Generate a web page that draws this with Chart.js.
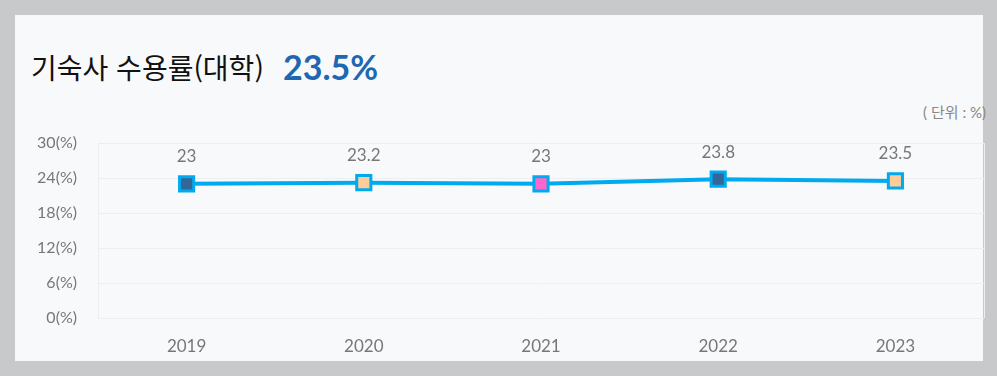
<!DOCTYPE html>
<html lang="ko">
<head>
<meta charset="utf-8">
<script src="https://cdn.jsdelivr.net/npm/chart.js@4.4.1/dist/chart.umd.min.js"></script>
<style>
    html, body { margin: 0; padding: 0; }
    body { width: 997px; height: 376px; background: #c8c9cb; position: relative; overflow: hidden; font-family: "Lato", "Noto Sans CJK KR", sans-serif; }
    .panel { position: absolute; left: 15px; top: 15px; width: 968px; height: 346px; background: #f8f9fb; }
    .title { position: absolute; left: 31px; top: 47px; font-size: 28px; color: #111; font-family: "Noto Sans CJK KR", sans-serif; line-height: 40px; white-space: nowrap; }
    .value { position: absolute; left: 283px; top: 47px; font-size: 34px; font-weight: bold; color: #1f67b1; font-family: "Lato", sans-serif; line-height: 40px; }
    .unit { position: absolute; right: 11px; top: 102px; font-size: 15px; color: #888; line-height: 20px; white-space: nowrap; }
    #RateChart { position: absolute; left: 0; top: 0; }
</style>
</head>
<body>
<div class="panel"></div>
<div class="title">기숙사 수용률(대학)</div>
<div class="value">23.5%</div>
<div class="unit">( 단위 : %)</div>
<canvas id="RateChart" width="997" height="376"></canvas>

<script>
const years = ["2019", "2020", "2021", "2022", "2023"];
const rates = [23, 23.2, 23, 23.8, 23.5];
const pointColors = ["#336699", "#ffcc99", "#ff66cc", "#336699", "#ffcc99"];
const yTicks = { min: 0, max: 30, step: 6 };

function RateChart() {
    const ctx = document.getElementById("RateChart");

    new Chart(ctx, {
        type: "line",
        data: {
            labels: years,
            datasets: [
                {
                    label: "기숙사 수용률",
                    data: rates,
                    borderColor: "#00aaee",
                    borderWidth: 4,
                    fill: false,
                    tension: 0,
                    pointStyle: "rect",
                    pointRadius: 10,
                    pointHoverRadius: 10,
                    pointBorderWidth: 3,
                    pointBorderColor: "#00aaee",
                    pointBackgroundColor: pointColors,
                },
            ],
        },
        options: {
            responsive: false,
            animation: false,
            layout: {
                padding: { left: 36, right: 11, top: 143, bottom: 18 },
            },
            plugins: {
                legend: { display: false },
                tooltip: { enabled: false },
            },
            scales: {
                x: {
                    offset: true,
                    grid: { display: false },
                    border: { display: false },
                    ticks: {
                        color: "#777",
                        padding: 10,
                        font: { family: "Lato", size: 17 },
                    },
                    afterFit(scale) { scale.height = 40; },
                },
                y: {
                    min: yTicks.min,
                    max: yTicks.max,
                    grid: { color: "#eceef1", drawTicks: false },
                    border: { display: true, color: "#eceef1" },
                    ticks: {
                        stepSize: yTicks.step,
                        color: "#777",
                        padding: 21,
                        font: { family: "Lato", size: 16 },
                        callback: (v) => v + "(%)",
                    },
                    afterFit(scale) { scale.width = 62; },
                },
            },
        },
        plugins: [
            {
                id: "rightEdge",
                beforeDatasetsDraw(chart) {
                    const { right, top, bottom } = chart.chartArea;
                    const c = chart.ctx;
                    c.save();
                    c.strokeStyle = "#eceef1";
                    c.lineWidth = 1;
                    c.beginPath();
                    c.moveTo(right + 0.5, top);
                    c.lineTo(right + 0.5, bottom);
                    c.stroke();
                    c.restore();
                },
            },
            {
                id: "valueLabels",
                afterDatasetsDraw(chart) {
                    const c = chart.ctx;
                    const meta = chart.getDatasetMeta(0);
                    c.save();
                    c.font = "17px Lato";
                    c.fillStyle = "#777";
                    c.textAlign = "center";
                    c.textBaseline = "middle";
                    meta.data.forEach((pt, i) => {
                        c.fillText(String(rates[i]), pt.x, pt.y - 27);
                    });
                    c.restore();
                },
            },
        ],
    });
}

RateChart();
</script>
</body>
</html>
